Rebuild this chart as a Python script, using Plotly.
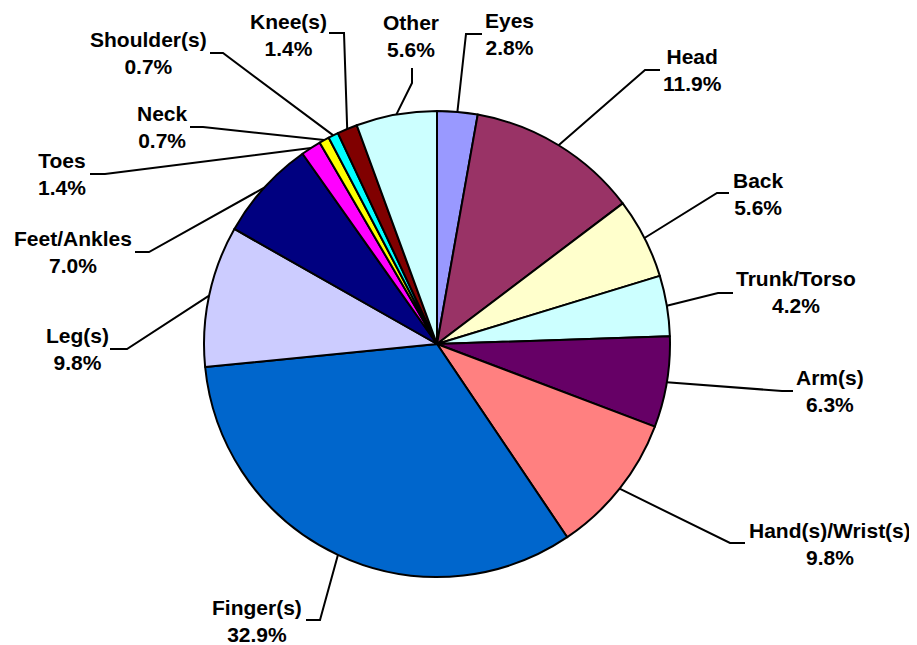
import math
import plotly.graph_objects as go

# ---- data (counts; percentages shown are share of total) ----
categories = ["Eyes", "Head", "Back", "Trunk/Torso", "Arm(s)", "Hand(s)/Wrist(s)",
              "Finger(s)", "Leg(s)", "Feet/Ankles", "Toes", "Neck", "Shoulder(s)",
              "Knee(s)", "Other"]
counts = [4, 17, 8, 6, 9, 14, 47, 14, 10, 2, 1, 1, 2, 8]
colors = ["#9999FF", "#993366", "#FFFFCC", "#CCFFFF", "#660066", "#FF8080",
          "#0066CC", "#CCCCFF", "#000080", "#FF00FF", "#FFFF00", "#00FFFF",
          "#800000", "#CCFFFF"]

# ---- layout (page pixels) ----
W, H = 917, 645
OFF = 8  # default page body margin
CX, CY, R = 437, 344, 233
# label block centres
label_pos = [(509, 34), (692, 70), (758, 194), (796, 292), (830, 391), (830, 544),
             (257, 621), (77, 349), (73, 252), (62, 174), (162, 127), (148, 53),
             (288, 35), (411, 36)]
# leader elbow and end points
elbows = [(466, 34), (645, 70), (717, 193), (718, 293), (782, 391), (730, 543),
          (320, 620), (127, 349), (149, 252), (105, 174), (203, 127), (223, 53),
          (344, 33), (412, 83)]
ends = [(482, 34), (660, 70), (729, 193), (733, 293), (793, 391), (745, 543),
        (306, 620), (110, 349), (135, 252), (90, 174), (190, 127), (210, 53),
        (329, 33), (412, 68)]

total = sum(counts)
fig = go.Figure()
fx0, fy0 = CX - OFF, CY - OFF
fig.add_trace(go.Pie(
    labels=categories, values=counts, sort=False, direction="clockwise",
    rotation=0, textinfo="none", hoverinfo="label+percent",
    marker=dict(colors=colors, line=dict(color="black", width=2)),
    domain=dict(x=[(fx0 - R) / W, (fx0 + R) / W], y=[1 - (fy0 + R) / H, 1 - (fy0 - R) / H]),
    showlegend=False,
))
# invisible trace to establish pixel-coordinate axes
fig.add_trace(go.Scatter(x=[OFF, W + OFF], y=[OFF, H + OFF], mode="markers",
                         marker=dict(opacity=0), hoverinfo="skip", showlegend=False))

shapes = []
annotations = []
cum = 0
for i, (cat, v) in enumerate(zip(categories, counts)):
    mid = (cum + v / 2) / total
    cum += v
    th = 2 * math.pi * mid
    px = CX + R * math.sin(th)
    py = CY - R * math.cos(th)
    ex, ey = elbows[i]
    nx, ny = ends[i]
    shapes.append(dict(type="path", xref="x", yref="y",
                       path=f"M {px:.1f},{py:.1f} L {ex},{ey} L {nx},{ny}",
                       line=dict(color="black", width=2), layer="above"))
    pct = 100 * v / total
    lx, ly = label_pos[i]
    annotations.append(dict(x=lx, y=ly, xref="x", yref="y", showarrow=False,
                            text=f"{cat}<br>{pct:.1f}%", align="center",
                            xanchor="center", yanchor="middle",
                            font=dict(family="Arial, 'Liberation Sans', sans-serif",
                                      size=21, color="black", weight="bold")))

fig.update_layout(
    width=W, height=H, margin=dict(l=0, r=0, t=0, b=0),
    paper_bgcolor="white", plot_bgcolor="rgba(0,0,0,0)",
    xaxis=dict(range=[OFF, W + OFF], visible=False, domain=[0, 1], fixedrange=True),
    yaxis=dict(range=[H + OFF, OFF], visible=False, domain=[0, 1], fixedrange=True),
    shapes=shapes, annotations=annotations,
)
fig.write_html("out.html")
